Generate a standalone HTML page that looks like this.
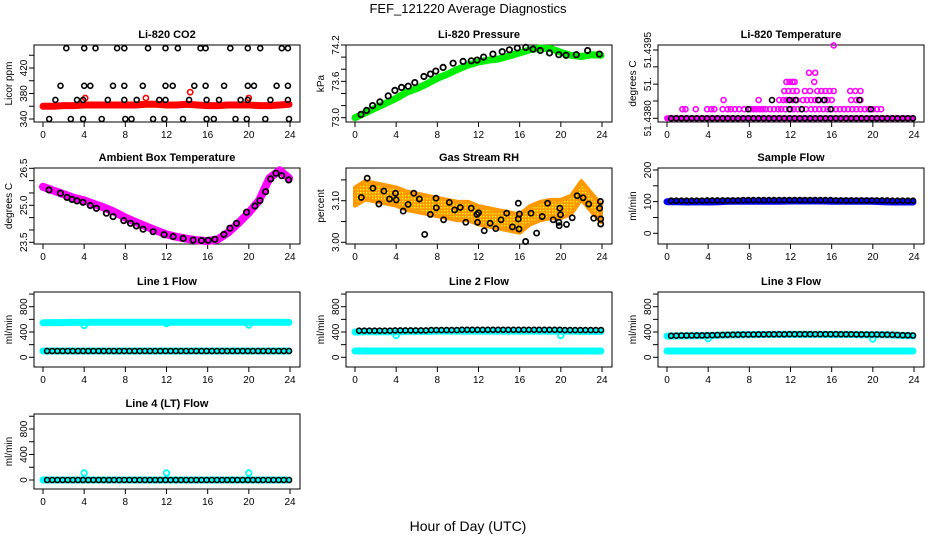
<!DOCTYPE html>
<html><head><meta charset="utf-8"><title>FEF_121220 Average Diagnostics</title>
<style>
html,body{margin:0;padding:0;background:#fff;}
svg{display:block;font-family:"Liberation Sans",Arial,sans-serif;}
.tt{font-weight:bold;font-size:11px;}
.tk{font-size:10px;}
</style></head>
<body>
<svg id="chart" width="936" height="540" viewBox="0 0 936 540" xmlns="http://www.w3.org/2000/svg">
<defs>
<pattern id="rhpat" width="3" height="3" patternUnits="userSpaceOnUse">
<rect width="3" height="3" fill="#ff9900"/><rect x="0" y="0" width="1.3" height="1.3" fill="#ffff00"/>
</pattern>
</defs>
<rect width="936" height="540" fill="#fff"/>
<text x="468" y="13" text-anchor="middle" font-size="13">FEF_121220  Average Diagnostics</text>
<text x="468" y="531" text-anchor="middle" font-size="14">Hour of Day (UTC)</text>
<g id="plots"></g>
</svg>
<script>
// ---------- shared categories ----------
const xTicks = [0,4,8,12,16,20,24];
const hourly = [0,1,2,3,4,5,6,7,8,9,10,11,12,13,14,15,16,17,18,19,20,21,22,23,23.9];
const halfHours = [0.4,0.9,1.4,1.9,2.4,2.9,3.4,3.9,4.4,4.9,5.4,5.9,6.4,6.9,7.4,7.9,8.4,8.9,9.4,9.9,10.4,10.9,11.4,11.9,12.4,12.9,13.4,13.9,14.4,14.9,15.4,15.9,16.4,16.9,17.4,17.9,18.4,18.9,19.4,19.9,20.4,20.9,21.4,21.9,22.4,22.9,23.4,23.9];

// ---------- CO2 ----------
const co2Red = [360,360,361,361,362,362,362,362,362,362,363,363,362,362,363,362,361,361,362,362,362,361,361,362,363];
const co2RedOutHours = [4.1,10.0,14.3,20.0];
const co2RedOutVals = [373,373,382,373];
const co2BlackHours = [2.26,4.0,5.1,7.2,7.9,10.2,11.9,13.1,15.3,15.8,18.2,19.9,21.1,23.2,23.8,
 1.7,4.0,4.6,6.8,7.9,9.7,11.9,12.6,14.7,15.8,17.6,19.9,20.5,22.7,23.8,
 1.2,3.3,3.9,6.3,7.9,9.1,11.3,11.9,14.2,15.9,17.1,19.2,19.9,22.1,23.8,
 0.6,2.7,3.9,5.7,8.0,8.6,10.7,11.8,13.6,15.9,16.6,18.7,19.8,21.6,23.9];
const co2BlackVals = [451,451,451,451,451,451,451,451,451,451,451,451,451,451,451,
 392,392,392,392,392,392,392,392,392,392,392,392,392,392,392,
 370,370,370,370,370,370,370,370,370,370,370,370,370,370,370,
 340,340,340,340,340,340,340,340,340,340,340,340,340,340,340];

// ---------- Pressure ----------
const presGreen = [73.0,73.08,73.16,73.24,73.32,73.42,73.48,73.56,73.65,73.72,73.8,73.87,73.92,73.95,73.97,74.02,74.07,74.12,74.15,74.14,74.08,74.03,74.01,74.04,74.03];
const presBlackHours = [0.58,1.13,1.71,2.42,3.23,3.88,4.52,5.17,5.81,6.69,7.33,7.85,8.56,9.53,10.5,11.3,11.86,12.5,13.4,14.3,15.0,15.77,16.6,17.3,18.0,18.9,19.8,20.5,21.5,22.6,23.75];
const presBlackVals = [73.055,73.12,73.2,73.26,73.36,73.45,73.5,73.52,73.58,73.68,73.72,73.77,73.83,73.9,73.93,73.94,73.95,74.0,74.05,74.09,74.12,74.15,74.16,74.13,74.11,74.07,74.04,74.03,74.04,74.11,74.05];

// ---------- Li-820 Temperature ----------
const tempBase = [51.438,51.438,51.438,51.438,51.438,51.438,51.438,51.438,51.438,51.438,51.438,51.438,51.438,51.438,51.438,51.438,51.438,51.438,51.438,51.438,51.438,51.438,51.438,51.438,51.438];
const tempMagHours = [1.5,1.8,2.8,3.9,4.3,4.6,5.4,5.9,6.2,6.6,7.0,7.5,8.1,8.4,8.7,9.0,9.3,9.6,10.0,10.4,10.8,11.1,11.5,12.0,12.3,12.7,13.1,13.5,14.0,14.4,14.8,15.2,15.6,16.0,16.4,16.8,17.2,17.6,18.0,18.4,18.8,19.2,19.6,20.0,20.4,20.8,
 5.5,8.9,10.9,11.3,11.6,12.2,12.6,13.2,13.6,14.0,14.4,14.8,15.2,15.6,16.0,17.9,18.4,18.8,
 11.4,11.8,12.2,12.6,13.4,13.9,14.6,15.0,15.4,15.8,16.2,17.8,18.3,18.8,
 11.6,11.9,12.2,12.4,14.3,
 13.8,14.4,
 16.2];
const tempMagVals = [51.4382,51.4382,51.4382,51.4382,51.4382,51.4382,51.4382,51.4382,51.4382,51.4382,51.4382,51.4382,51.4382,51.4382,51.4382,51.4382,51.4382,51.4382,51.4382,51.4382,51.4382,51.4382,51.4382,51.4382,51.4382,51.4382,51.4382,51.4382,51.4382,51.4382,51.4382,51.4382,51.4382,51.4382,51.4382,51.4382,51.4382,51.4382,51.4382,51.4382,51.4382,51.4382,51.4382,51.4382,51.4382,51.4382,
 51.4384,51.4384,51.4384,51.4384,51.4384,51.4384,51.4384,51.4384,51.4384,51.4384,51.4384,51.4384,51.4384,51.4384,51.4384,51.4384,51.4384,51.4384,
 51.4386,51.4386,51.4386,51.4386,51.4386,51.4386,51.4386,51.4386,51.4386,51.4386,51.4386,51.4386,51.4386,51.4386,
 51.4388,51.4388,51.4388,51.4388,51.4388,
 51.439,51.439,
 51.4396];
const tempBlackVals = [51.438,51.438,51.438,51.438,51.438,51.438,51.438,51.438,51.438,51.438,51.438,51.438,51.438,51.438,51.438,51.438,51.438,51.438,51.438,51.438,51.438,51.438,51.438,51.438,51.438,51.438,51.438,51.438,51.438,51.438,51.438,51.438,51.438,51.438,51.438,51.438,51.438,51.438,51.438,51.438,51.438,51.438,51.438,51.438,51.438,51.438,51.438,51.438];
const tempBlackExtraHours = [7.9,11.9,13.1,15.9,19.8,10.2,11.9,12.5,14.7,15.3,18.7];
const tempBlackExtraVals = [51.4382,51.4382,51.4382,51.4382,51.4382,51.4384,51.4384,51.4384,51.4384,51.4384,51.4384];

// ---------- Ambient Box Temperature ----------
const ambMag = [25.75,25.6,25.45,25.3,25.2,25.05,24.9,24.72,24.5,24.32,24.15,23.98,23.82,23.72,23.64,23.58,23.55,23.62,23.9,24.28,24.7,25.2,26.1,26.42,26.1];
const ambBlackHours = [0.58,1.69,2.33,2.82,3.3,3.89,4.6,5.19,6.16,6.81,7.85,8.5,9.08,9.73,10.7,11.77,12.65,13.62,14.59,15.4,16.05,16.7,17.58,18.16,18.8,19.78,20.6,21.08,21.63,22.12,22.64,23.19,23.87];
const ambBlackVals = [25.62,25.49,25.32,25.24,25.18,25.12,24.99,24.88,24.68,24.54,24.38,24.27,24.16,24.03,23.93,23.81,23.73,23.66,23.59,23.57,23.58,23.62,23.82,24.07,24.27,24.72,24.97,25.19,25.55,26.07,26.3,26.2,26.03];

// ---------- Gas Stream RH ----------
const rhOrange = [3.11,3.125,3.12,3.115,3.11,3.1,3.095,3.09,3.085,3.08,3.075,3.075,3.065,3.06,3.055,3.05,3.045,3.065,3.075,3.08,3.08,3.09,3.125,3.095,3.07];
const rhBlackHours = [0.61,1.19,1.74,2.32,2.81,3.35,3.94,4.0,4.68,5.16,5.71,6.26,6.77,7.32,7.87,7.9,8.61,9.16,9.68,10.23,10.77,11.29,11.84,11.9,12.0,12.55,13.13,13.68,14.19,14.74,15.29,15.87,15.87,15.94,15.97,16.58,17.1,17.65,18.19,18.71,19.26,19.81,19.84,19.9,19.97,20.55,21.1,21.58,22.16,22.71,23.19,23.77,23.84,23.87,23.87];
const rhBlackVals = [3.108,3.154,3.13,3.092,3.123,3.104,3.118,3.102,3.075,3.091,3.118,3.104,3.019,3.067,3.106,3.083,3.054,3.096,3.078,3.084,3.048,3.082,3.067,3.048,3.071,3.028,3.046,3.033,3.054,3.07,3.037,3.056,3.094,3.032,3.068,3.002,3.07,3.022,3.062,3.094,3.054,3.048,3.04,3.082,3.066,3.043,3.059,3.112,3.107,3.092,3.058,3.082,3.098,3.056,3.044];

// ---------- Sample Flow ----------
const sampleBlue = [100,100,99,100,99,100,101,101,101,101,101,101,102,102,102,102,101,101,101,101,101,100,99,99,99];
const sampleBlack = [103,103,103,103,103,103,103,104,104,104,104,104,104,104,105,105,105,105,105,105,105,105,105,105,105,105,105,105,105,105,105,105,104,104,104,104,104,104,104,104,104,104,104,103,103,103,103,103];

// ---------- Line 1 Flow ----------
const line1CyanHi = [545,548,550,552,552,553,554,554,555,555,555,555,555,555,555,555,555,555,555,555,555,555,554,553,552];
const line1CyanLo = [100,100,100,100,100,100,100,100,100,100,100,100,100,100,100,100,100,100,100,100,100,100,100,100,100];
const line1OutHours = [4,12,20];
const line1OutVals = [505,535,510];
const line1Black = [100,100,100,100,100,100,100,100,100,100,100,100,100,100,100,100,100,100,100,100,100,100,100,100,100,100,100,100,100,100,100,100,100,100,100,100,100,100,100,100,100,100,100,100,100,100,100,100];

// ---------- Line 2 Flow ----------
const line2CyanHi = [400,405,405,405,405,410,410,410,415,415,415,415,415,415,415,415,415,415,415,415,415,415,410,410,410];
const line2CyanLo = [100,100,100,100,100,100,100,100,100,100,100,100,100,100,100,100,100,100,100,100,100,100,100,100,100];
const line2OutHours = [4,20];
const line2OutVals = [345,345];
const line2Black = [420,420,420,420,420,420,420,425,425,425,425,425,425,425,430,430,430,430,430,430,435,435,435,435,435,435,435,435,435,435,435,435,435,435,435,435,435,435,435,435,430,430,430,430,430,430,430,430];

// ---------- Line 3 Flow ----------
const line3CyanHi = [335,338,340,342,345,350,352,355,358,360,360,362,362,362,362,362,360,360,360,358,358,355,352,345,340];
const line3CyanLo = [100,100,100,100,100,100,100,100,100,100,100,100,100,100,100,100,100,100,100,100,100,100,100,100,100];
const line3OutHours = [4,20];
const line3OutVals = [295,290];
const line3Black = [340,342,344,345,345,346,347,348,350,352,354,355,357,358,359,360,361,362,362,363,363,364,364,365,366,366,366,366,366,366,366,365,365,364,364,363,362,362,361,360,360,358,357,355,353,350,348,345];

// ---------- Line 4 Flow ----------
const line4Cyan = [0,0,0,0,0,0,0,0,0,0,0,0,0,0,0,0,0,0,0,0,0,0,0,0,0];
const line4OutHours = [4,12,20];
const line4OutVals = [110,110,110];
const line4Black = [0,0,0,0,0,0,0,0,0,0,0,0,0,0,0,0,0,0,0,0,0,0,0,0,0,0,0,0,0,0,0,0,0,0,0,0,0,0,0,0,0,0,0,0,0,0,0,0];

// ---------- tick arrays ----------
const co2Ticks = [340,360,380,400,420,440];
const co2Labels = ["340","","380","","420",""];
const presTicks = [73.0,73.2,73.4,73.6,73.8,74.0,74.2];
const presLabels = ["73.0","","","73.6","","","74.2"];
const tempTicks = [51.438,51.43838,51.43875,51.43913,51.4395];
const tempLabels = ["51.4380","","51.","","51.4395"];
const ambTicks = [23.5,24.0,24.5,25.0,25.5,26.0,26.5];
const ambLabels = ["23.5","","","25.0","","","26.5"];
const rhTicks = [3.00,3.05,3.10,3.15];
const rhLabels = ["3.00","","3.10",""];
const sampleTicks = [0,50,100,150,200];
const sampleLabels = ["0","","100","","200"];
const flowTicks = [0,200,400,600,800,1000];
const flowLabels = ["0","","400","","800",""];

// ---------- layout ----------
const NS = "http://www.w3.org/2000/svg";
const root = document.getElementById("plots");
const colLeft = [0,312,624];
const rowBox = [[45,122],[168,244],[292,367],[414,489]];

function mk(tag, attrs, parent){
  const e = document.createElementNS(NS, tag);
  for (const k in attrs) e.setAttribute(k, attrs[k]);
  (parent||root).appendChild(e);
  return e;
}

function makePanel(col,row,title,ylab,v0,p0,v1,p1,ticks,labels){
  const g = mk("g",{});
  
  
  const L = colLeft[col]+34, R = colLeft[col]+300, T = rowBox[row][0], B = rowBox[row][1];
  const sx = h => colLeft[col]+43 + h*247/24;
  const sy = v => p0 + (v - v0)*(p1-p0)/(v1-v0);
  const box = mk("rect",{x:L,y:T,width:R-L,height:B-T,fill:"none",stroke:"#000","stroke-width":1},g);
  
  
  const t = mk("text",{x:(L+R)/2,y:T-7,"text-anchor":"middle",class:"tt"},g);
  t.textContent = title;
  
  
  const yl = mk("text",{x:0,y:0,"text-anchor":"middle",class:"tk",transform:`translate(${L-22},${(T+B)/2}) rotate(-90)`},g);
  yl.textContent = ylab;
  
  
  // x axis
  const xa = mk("g",{},g);
  
  
  mk("line",{x1:sx(xTicks[0]),x2:sx(xTicks[xTicks.length-1]),y1:B,y2:B,stroke:"#000"},xa);
  xTicks.forEach(v=>{
    mk("line",{x1:sx(v),x2:sx(v),y1:B,y2:B+5,stroke:"#000"},xa);
    const tl = mk("text",{x:sx(v),y:B+16,"text-anchor":"middle",class:"tk"},xa);
    tl.textContent = v;
    
    
  });
  // y axis
  const ya = mk("g",{},g);
  
  
  mk("line",{x1:L,x2:L,y1:sy(ticks[0]),y2:sy(ticks[ticks.length-1]),stroke:"#000"},ya);
  ticks.forEach((v,i)=>{
    mk("line",{x1:L-5,x2:L,y1:sy(v),y2:sy(v),stroke:"#000"},ya);
    if (labels[i]) {
      const yt = mk("text",{x:0,y:0,"text-anchor":"middle",class:"tk",transform:`translate(${L-7},${sy(v)}) rotate(-90)`},ya);
      yt.textContent = labels[i];
      
      
    }
  });
  const data = mk("g",{},g);
  
  
  return {g:data,sx,sy};
}

function band(P,hours,vals,color,w,name){
  const pts = hours.map((h,i)=>P.sx(h).toFixed(1)+","+P.sy(vals[i]).toFixed(1)).join(" ");
  const pl = mk("polyline",{points:pts,fill:"none",stroke:color,"stroke-width":w,"stroke-linejoin":"round","stroke-linecap":"round"},P.g);
  
  
}
function dots(P,hours,vals,color,r,sw,name){
  hours.forEach((h,i)=>{
    const c = mk("circle",{cx:P.sx(h).toFixed(1),cy:P.sy(vals[i]).toFixed(1),r:r,fill:"none",stroke:color,"stroke-width":sw},P.g);
    
    
  });
}

// CO2
let P = makePanel(0,0,"Li-820 CO2","Licor ppm",340,119,420,68,co2Ticks,co2Labels);
band(P,hourly,co2Red,"#ff0000",7,"co2-red-series");
dots(P,co2RedOutHours,co2RedOutVals,"#ff0000",2.6,1.6,"co2-red-point");
dots(P,co2BlackHours,co2BlackVals,"#000",2.5,1.6,"co2-black-point");

// Pressure
P = makePanel(1,0,"Li-820 Pressure","kPa",73.0,117.7,74.2,45,presTicks,presLabels);
band(P,hourly,presGreen,"#00ee00",7,"pressure-green-series");
dots(P,presBlackHours,presBlackVals,"#000",2.7,1.8,"pressure-black-point");

// Temperature
P = makePanel(2,0,"Li-820 Temperature","degrees C",51.438,118.3,51.4395,50,tempTicks,tempLabels);
band(P,hourly,tempBase,"#ff00ff",6,"temp-magenta-series");
dots(P,tempMagHours,tempMagVals,"#ff00ff",2.5,1.6,"temp-magenta-point");
dots(P,halfHours,tempBlackVals,"#000",2.5,1.6,"temp-black-point");
dots(P,tempBlackExtraHours,tempBlackExtraVals,"#000",2.5,1.6,"temp-black-point");

// Ambient
P = makePanel(0,1,"Ambient Box Temperature","degrees C",23.5,242.3,26.5,168.3,ambTicks,ambLabels);
band(P,hourly,ambMag,"#ff00ff",8,"ambient-magenta-series");
dots(P,ambBlackHours,ambBlackVals,"#000",2.7,1.8,"ambient-black-point");

// RH
P = makePanel(1,1,"Gas Stream RH","percent",3.00,242.3,3.10,200.7,rhTicks,rhLabels);
(function(){
  const up = hourly.map((h,i)=>P.sx(h).toFixed(1)+","+P.sy(rhOrange[i]+0.022).toFixed(1));
  const lo = hourly.map((h,i)=>P.sx(h).toFixed(1)+","+P.sy(rhOrange[i]-0.022).toFixed(1)).reverse();
  const pg = mk("polygon",{points:up.concat(lo).join(" "),fill:"url(#rhpat)",stroke:"#ff9900","stroke-width":4,"stroke-linejoin":"round"},P.g);
  
  
})();
dots(P,rhBlackHours,rhBlackVals,"#000",2.6,1.7,"rh-black-point");

// Sample flow
P = makePanel(2,1,"Sample Flow","ml/min",0,233.3,200,170,sampleTicks,sampleLabels);
band(P,hourly,sampleBlue,"#0000ff",7,"sample-blue-series");
dots(P,halfHours,sampleBlack,"#000",2.5,1.6,"sample-black-point");

// Line 1
P = makePanel(0,2,"Line 1 Flow","ml/min",0,357.3,800,306.7,flowTicks,flowLabels);
band(P,hourly,line1CyanHi,"#00ffff",7,"line1-cyan-series");
band(P,hourly,line1CyanLo,"#00ffff",7,"line1-cyan-low-series");
dots(P,line1OutHours,line1OutVals,"#00ffff",2.8,1.8,"line1-cyan-point");
dots(P,halfHours,line1Black,"#000",2.5,1.6,"line1-black-point");

// Line 2
P = makePanel(1,2,"Line 2 Flow","ml/min",0,357.3,800,306.7,flowTicks,flowLabels);
band(P,hourly,line2CyanHi,"#00ffff",7,"line2-cyan-series");
band(P,hourly,line2CyanLo,"#00ffff",7,"line2-cyan-low-series");
dots(P,line2OutHours,line2OutVals,"#00ffff",2.8,1.8,"line2-cyan-point");
dots(P,halfHours,line2Black,"#000",2.5,1.6,"line2-black-point");

// Line 3
P = makePanel(2,2,"Line 3 Flow","ml/min",0,357.3,800,306.7,flowTicks,flowLabels);
band(P,hourly,line3CyanHi,"#00ffff",7,"line3-cyan-series");
band(P,hourly,line3CyanLo,"#00ffff",7,"line3-cyan-low-series");
dots(P,line3OutHours,line3OutVals,"#00ffff",2.8,1.8,"line3-cyan-point");
dots(P,halfHours,line3Black,"#000",2.5,1.6,"line3-black-point");

// Line 4
P = makePanel(0,3,"Line 4 (LT) Flow","ml/min",0,480,800,429,flowTicks,flowLabels);
band(P,hourly,line4Cyan,"#00ffff",7,"line4-cyan-series");
dots(P,line4OutHours,line4OutVals,"#00ffff",2.8,1.8,"line4-cyan-point");
dots(P,halfHours,line4Black,"#000",2.5,1.6,"line4-black-point");
</script>
</body></html>
